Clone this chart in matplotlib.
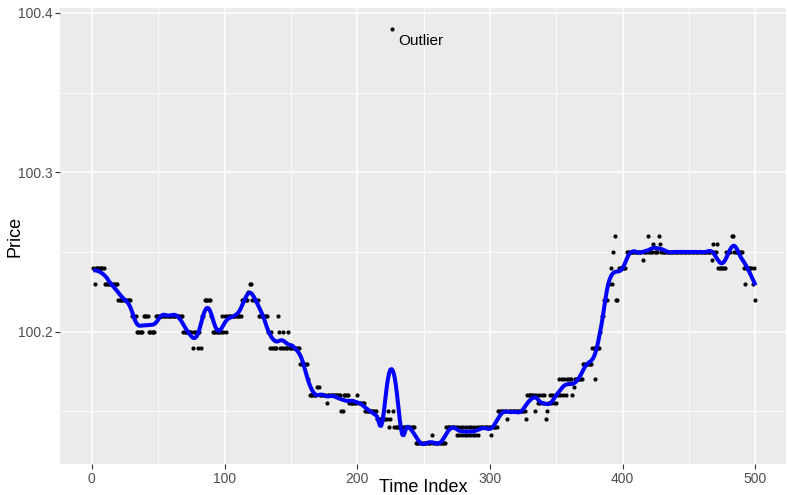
import numpy as np
import matplotlib
matplotlib.use("Agg")
import matplotlib.pyplot as plt

# price levels, stored as runs (level, how many consecutive ticks)
price_levels = [
    100.24, 100.23, 100.24, 100.23, 100.22, 100.21, 100.20, 100.21, 100.20, 100.21,
    100.20, 100.19, 100.20, 100.19, 100.20, 100.19, 100.21, 100.22, 100.21, 100.20,
    100.21, 100.20, 100.21, 100.20, 100.21, 100.22, 100.225, 100.23, 100.22, 100.21,
    100.20, 100.19, 100.20, 100.19, 100.21, 100.20, 100.19, 100.20, 100.19, 100.20,
    100.19, 100.18, 100.17, 100.16, 100.165, 100.16, 100.155, 100.16, 100.15, 100.16,
    100.155, 100.16, 100.155, 100.15, 100.145, 100.15, 100.14, 100.145, 100.39, 100.15,
    100.14, 100.13, 100.135, 100.13, 100.14,
    100.135, 100.14, 100.135, 100.14, 100.135, 100.14, 100.135, 100.14, 100.135, 100.14,
    100.135, 100.14, 100.135, 100.14, 100.135, 100.14, 100.135, 100.14,
    100.14, 100.135, 100.14, 100.15, 100.145, 100.15, 100.145, 100.16, 100.15,
    100.16, 100.155, 100.16, 100.155, 100.16, 100.155, 100.16,
    100.145, 100.15,
    100.155, 100.16, 100.155, 100.16, 100.155, 100.16, 100.155, 100.16,
    100.17, 100.16, 100.17, 100.16, 100.17, 100.16, 100.17,
    100.17, 100.16, 100.165, 100.17, 100.18, 100.19, 100.17, 100.19, 100.20, 100.21,
    100.22, 100.23, 100.24, 100.23, 100.25, 100.26, 100.22, 100.24, 100.25, 100.245,
    100.25, 100.26,
    100.25, 100.255, 100.25,
    100.26, 100.255, 100.25, 100.245, 100.255, 100.25, 100.255, 100.24, 100.25, 100.26,
    100.25, 100.24, 100.23, 100.24, 100.23, 100.24, 100.22,
]
run_lengths = [
    1, 1, 7, 10, 10, 4, 5, 4, 5, 21,
    7, 1, 3, 1, 1, 1, 2, 5, 1, 7,
    1, 1, 1, 1, 11, 5, 1, 2, 5, 7,
    1, 1, 1, 4, 1, 1, 2, 1, 3, 1,
    8, 6, 1, 6, 2, 5, 1, 10, 2, 4,
    6, 1, 5, 9, 8, 1, 1, 1, 1, 1,
    16, 12, 1, 10, 8,
    1, 1, 1, 1, 1, 1, 1, 1, 1, 1,
    1, 1, 1, 1, 1, 1, 1, 1,
    8, 1, 4, 7, 1, 13, 1, 6, 1,
    1, 1, 1, 1, 1, 1, 1,
    1, 1,
    1, 1, 1, 1, 1, 1, 1, 1,
    1, 1, 1, 1, 1, 1, 1,
    3, 1, 1, 6, 7, 2, 1, 3, 1, 2,
    3, 2, 1, 1, 1, 1, 2, 6, 12, 1,
    3, 1,
    3, 1, 3,
    1, 1, 38, 1, 1, 2, 1, 6, 4, 2,
    7, 1, 1, 5, 1, 1, 1,
]

x_ticks = [0, 100, 200, 300, 400, 500]
y_ticks = [100.2, 100.3, 100.4]
outlier_label = "Outlier"

price = np.repeat(price_levels, run_lengths)
time_index = np.arange(1, len(price) + 1)


def loess(x, y, span=0.05):
    """Local quadratic fit with tricube weights, like R's loess"""
    n = len(x)
    q = int(np.floor(n * span))
    y0 = y - y.mean()
    fit = np.empty(n)
    for k, x0 in enumerate(x):
        d = np.abs(x - x0)
        h = np.sort(d)[q - 1]
        w = np.clip(1 - (d / h) ** 3, 0, None) ** 3
        sw = np.sqrt(w)
        X = np.column_stack([np.ones(n), x - x0, (x - x0) ** 2])
        beta = np.linalg.lstsq(X * sw[:, None], y0 * sw, rcond=None)[0]
        fit[k] = beta[0]
    return fit + y.mean()


smooth = loess(time_index.astype(float), price)

plt.rcParams['font.family'] = ['Liberation Sans', 'DejaVu Sans']

fig = plt.figure(figsize=(7.87, 4.95), dpi=100)
ax = fig.add_axes([60 / 787, 31 / 495, 726 / 787, 456 / 495])
ax.set_facecolor('#EBEBEB')
for s in ax.spines.values():
    s.set_visible(False)

ax.scatter(time_index, price, s=9, color='black', linewidths=0, zorder=2)
ax.plot(time_index, smooth, color='#0000FF', linewidth=2.9, zorder=3,
        solid_capstyle='butt')

i_out = int(np.argmax(price))
ax.text(time_index[i_out] + 4.5, price[i_out] - 0.0078, outlier_label,
        ha='left', va='center', fontsize=11, color='black')

ax.set_xlim(-24, 523)
ax.set_ylim(100.117, 100.403)
ax.set_xticks(x_ticks)
ax.set_xticklabels([str(t) for t in x_ticks])
ax.set_yticks(y_ticks)
ax.set_yticklabels([f"{t:.1f}" for t in y_ticks])
ax.set_xticks([50, 150, 250, 350, 450], minor=True)
ax.set_yticks([100.15, 100.25, 100.35], minor=True)

ax.set_axisbelow(True)
ax.grid(which='major', color='white', linewidth=1.1)
ax.grid(which='minor', color='white', linewidth=0.55)
ax.tick_params(which='major', length=3.5, width=0.8, color='#333333',
               labelsize=10, labelcolor='#4D4D4D', pad=2)
ax.tick_params(which='minor', length=0)

ax.set_xlabel("Time Index", fontsize=13, va='center')
ax.xaxis.set_label_coords(0.5, (464 - 488) / 456)
ax.set_ylabel("Price", fontsize=13, va='center')
ax.yaxis.set_label_coords((15 - 60) / 726, 0.5)

fig.savefig("out.png", dpi=100)
